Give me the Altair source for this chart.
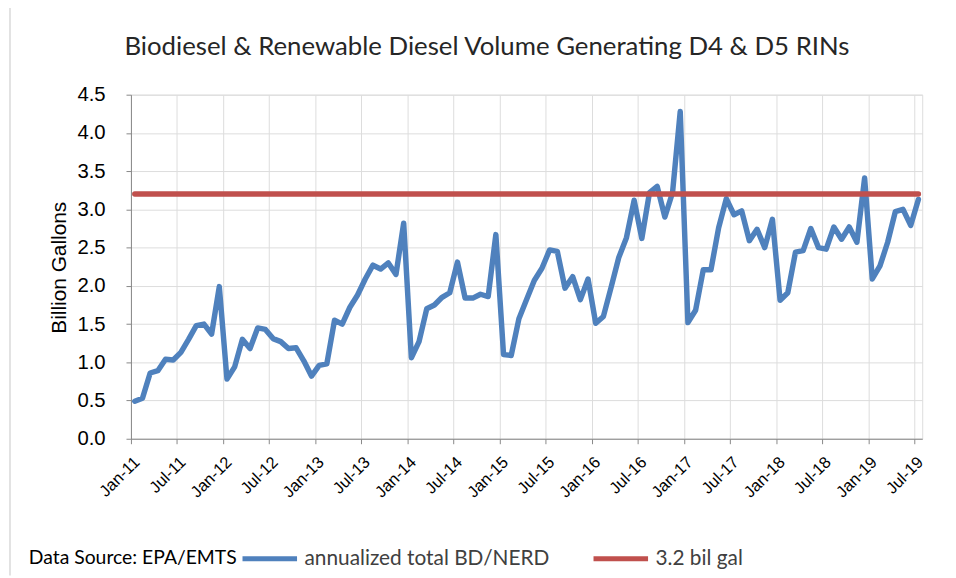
import json
import altair as alt
import pandas as pd

# Monthly values, Jan-11 .. Jul-19 (billion gallons, annualized)
values = [
    0.49, 0.53, 0.86, 0.89, 1.04, 1.03, 1.13, 1.30, 1.48, 1.50, 1.37, 1.99,   # 2011
    0.78, 0.94, 1.30, 1.18, 1.45, 1.43, 1.31, 1.27, 1.18, 1.19, 1.02, 0.82,   # 2012
    0.96, 0.98, 1.55, 1.50, 1.72, 1.88, 2.09, 2.27, 2.22, 2.30, 2.15, 2.82,   # 2013
    1.06, 1.27, 1.70, 1.75, 1.85, 1.91, 2.31, 1.84, 1.84, 1.89, 1.86, 2.67,   # 2014
    1.10, 1.09, 1.57, 1.82, 2.07, 2.23, 2.47, 2.45, 1.97, 2.12, 1.82, 2.09,   # 2015
    1.51, 1.60, 1.98, 2.37, 2.63, 3.12, 2.62, 3.22, 3.30, 2.90, 3.22, 4.28,   # 2016
    1.52, 1.68, 2.21, 2.21, 2.76, 3.14, 2.93, 2.98, 2.59, 2.74, 2.50, 2.87,   # 2017
    1.81, 1.91, 2.44, 2.46, 2.75, 2.50, 2.48, 2.77, 2.61, 2.77, 2.57, 3.41,   # 2018
    2.09, 2.26, 2.57, 2.97, 3.00, 2.79, 3.13,                                  # 2019
]
month_names = ["Jan", "Feb", "Mar", "Apr", "May", "Jun",
               "Jul", "Aug", "Sep", "Oct", "Nov", "Dec"]
tick_labels = ["Jan-11", "Jul-11", "Jan-12", "Jul-12", "Jan-13", "Jul-13",
               "Jan-14", "Jul-14", "Jan-15", "Jul-15", "Jan-16", "Jul-16",
               "Jan-17", "Jul-17", "Jan-18", "Jul-18", "Jan-19", "Jul-19"]
series_names = ["annualized total BD/NERD", "3.2 bil gal"]
series_colors = ["#4F81BD", "#C0504D"]
target = 3.2
title_text = "Biodiesel & Renewable Diesel Volume Generating D4 & D5 RINs"
source_text = "Data Source: EPA/EMTS"

n = len(values)
labels = [f"{month_names[i % 12]}-{11 + i // 12}" for i in range(n)]
df_main = pd.DataFrame({
    "idx": [i + 0.5 for i in range(n)],
    "month": labels,
    "value": values,
    "series": series_names[0],
})
df_target = pd.DataFrame({
    "idx": [0.5, n - 0.5],
    "month": [labels[0], labels[-1]],
    "value": [target, target],
    "series": series_names[1],
})

FONT = "Lato"
TXT = "#404040"

color = alt.Color(
    "series:N",
    scale=alt.Scale(domain=series_names, range=series_colors),
    legend=alt.Legend(
        orient="none", legendX=110, legendY=438, direction="horizontal",
        title=None, symbolType="stroke", symbolSize=3025, symbolStrokeWidth=5,
        labelFont=FONT, labelFontSize=21, labelColor=TXT, labelOffset=5,
        columnPadding=33, labelLimit=400,
    ),
)

x = alt.X(
    "idx:Q",
    scale=alt.Scale(domain=[0, n], nice=False, zero=False),
    axis=alt.Axis(
        values=list(range(0, n, 6)),
        labelExpr=f"{json.dumps(tick_labels)}[round(datum.value / 6)]",
        labelAngle=315, labelAlign="right", labelBaseline="top",
        labelPadding=10, labelFontSize=16.5, labelOverlap=False, labelFlush=False,
        title=None,
    ),
)
y = alt.Y(
    "value:Q",
    scale=alt.Scale(domain=[0, 4.5], nice=False),
    axis=alt.Axis(
        values=[i * 0.5 for i in range(10)], format=".1f",
        labelFontSize=20.5, labelPadding=21,
        title="Billion Gallons", titleFontSize=21, titleFontWeight="normal",
        titleColor="#000000", titleX=-72, titleY=174, titleAngle=270,
        titleAlign="center", titleBaseline="middle",
    ),
)

main_line = alt.Chart(df_main).mark_line(
    strokeWidth=5.5, strokeCap="round", strokeJoin="round"
).encode(x=x, y=y, color=color, tooltip=["month", "value"])

target_line = alt.Chart(df_target).mark_line(
    strokeWidth=5.5, strokeCap="round"
).encode(x=x, y=y, color=color)

title = alt.Chart(pd.DataFrame({"t": [title_text]})).mark_text(
    align="center", baseline="alphabetic", font=FONT, fontSize=26, color="#262626"
).encode(text="t:N", x=alt.value(359), y=alt.value(-40))

source = alt.Chart(pd.DataFrame({"t": [source_text]})).mark_text(
    align="left", baseline="alphabetic", font=FONT, fontSize=19.5, color="#000000"
).encode(text="t:N", x=alt.value(-103), y=alt.value(473))

frame = alt.Chart(pd.DataFrame({"a": [0]})).mark_rule(
    color="#D9D9D9", strokeWidth=1.5
).encode(x=alt.value(-122), y=alt.value(-93), y2=alt.value(485))

chart = alt.layer(frame, main_line, target_line, title, source).properties(
    width=798, height=347,
    autosize=alt.AutoSizeParams(type="none"),
    padding={"left": 124, "top": 85, "right": 26, "bottom": 138},
).configure_axis(
    grid=True, gridColor="#D9D9D9", gridWidth=1.3, domain=False, ticks=False,
    labelFont=FONT, labelColor=TXT, titleFont=FONT,
).configure_view(stroke=None).configure(background="white")

chart.save("out.html", embed_options={"renderer": "svg", "actions": False})
